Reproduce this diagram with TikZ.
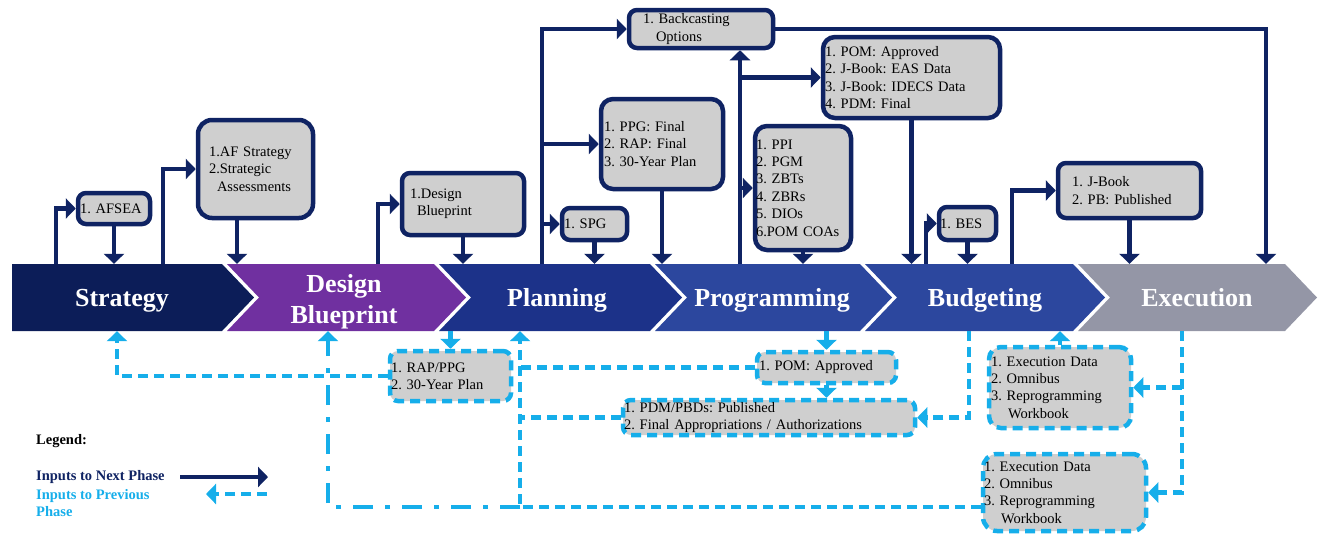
\documentclass[tikz,border=0pt]{standalone}
\usepackage{fontspec}
\setmainfont{Liberation Serif}
\usetikzlibrary{arrows.meta}

\definecolor{navy}{HTML}{0F2363}
\definecolor{lblue}{HTML}{16AEEA}
\definecolor{boxgray}{HTML}{CFCFCF}
\definecolor{cstrat}{HTML}{0C1D58}
\definecolor{cdesign}{HTML}{7030A0}
\definecolor{cplan}{HTML}{1C3289}
\definecolor{cprog}{HTML}{2C479E}
\definecolor{cbudg}{HTML}{2C479E}
\definecolor{cexec}{HTML}{9496A6}

\newcommand\boxfont{\fontsize{14.5}{17.4}\selectfont}
\newcommand\phasefont{\fontsize{26}{31}\selectfont\bfseries}
\newcommand\legfont{\fontsize{14.5}{17.5}\selectfont\bfseries}
% phase names: baseline set at a fixed depth below the band centre line
\newcommand\phasetext[2][-9pt]{\raisebox{#1}[0pt][0pt]{#2}}

\tikzset{
  tip/.style={-{Triangle[width=20pt,length=10pt]}},
  nbox/.style={draw=navy, line width=4.5pt, fill=boxgray, rounded corners=8pt,
    align=left, inner ysep=0pt, font=\boxfont},
  dbox/.style={draw=lblue, line width=4.5pt, dash pattern=on 10pt off 6pt,
    fill=boxgray, rounded corners=8pt, align=left, inner ysep=0pt, font=\boxfont},
  sz/.style n args={3}{text width=#1pt, minimum height=#2pt, inner xsep=#3pt},
  nav/.style={draw=navy, line width=4.5pt, tip},
  prevline/.style={draw=lblue, line width=4.5pt, dash pattern=on 10pt off 6pt},
  prev/.style={prevline, tip},
  prevdd/.style={draw=lblue, line width=4.5pt, dash pattern=on 20pt off 12pt on 5pt off 12pt},
  phase/.style={text=white, font=\phasefont, minimum height=67pt, inner sep=0pt, align=center},
}

\begin{document}
\frenchspacing
\begin{tikzpicture}[x=1pt,y=-1pt]
\useasboundingbox (0,0) rectangle (1319,539);

% ---- phase band ----
\fill[cstrat] (12,264) -- (222,264) -- (254,297.5) -- (222,331) -- (12,331) -- cycle;
\foreach \xl/\xr/\col in {227/434/cdesign, 439/650/cplan, 655/860/cprog, 865/1073/cbudg, 1078/1285/cexec}{
  \fill[\col] (\xl,264) -- (\xr,264) -- (\xr+32,297.5) -- (\xr,331) -- (\xl,331) -- (\xl+32,297.5) -- cycle;
}
\node[phase] (strategy) at (122,297.5) {\phasetext{Strategy}};
\node[phase] (design) at (344,297.5)
  {\phasetext[-26pt]{\begin{tabular}[b]{@{}c@{}}Design\\Blueprint\end{tabular}}};
\node[phase] (planning) at (557,297.5) {\phasetext{Planning}};
\node[phase] (programming) at (772,297.5) {\phasetext{Programming}};
\node[phase] (budgeting) at (985,297.5) {\phasetext{Budgeting}};
\node[phase] (execution) at (1197,297.5) {\phasetext{Execution}};

% ---- inputs to the next phase ----
\node[nbox, sz={68}{31}{2}] (afsea) at (114,208.5) {1. AFSEA};
\node[nbox, sz={93}{98}{11}, rounded corners=14pt] (afstrat) at (255.5,169)
  {1.AF Strategy\\2.Strategic\\\hspace*{8pt}Assessments};
\node[nbox, sz={106}{62}{8}] (dbp) at (463,204) {1.Design\\\hspace*{7pt}Blueprint};
\node[nbox, sz={61}{32}{2}] (spg) at (594.5,224) {1. SPG};
\node[nbox, sz={116}{90}{3}, rounded corners=12pt] (ppg) at (662,144)
  {1. PPG: Final\\2. RAP: Final\\3. 30-Year Plan};
\node[nbox, sz={116}{38}{14}] (backc) at (701,29) {1. Backcasting\\\hspace*{13pt}Options};
\node[nbox, sz={94}{124}{1}, rounded corners=12pt] (ppi) at (803,188)
  {1. PPI\\2. PGM\\3. ZBTs\\4. ZBRs\\5. DIOs\\6.POM COAs};
\node[nbox, sz={173}{81}{2}, rounded corners=12pt] (pomtop) at (911.5,77.5)
  {1. POM: Approved\\2. J-Book: EAS Data\\3. J-Book: IDECS Data\\4. PDM: Final};
\node[nbox, sz={55}{33}{1}] (bes) at (967.5,223.5) {1. BES};
\node[nbox, sz={115}{55}{14}] (jbook) at (1129.5,190.5) {1. J-Book\\2. PB: Published};

\draw[nav] (56,0 |- strategy.north) |- (afsea.west);
\draw[nav] (afsea.south) -- (afsea.south |- strategy.north);
\draw[nav] (163,0 |- strategy.north) |- (afstrat.west);
\draw[nav] (237,0 |- afstrat.south) -- (237,0 |- design.north);
\draw[nav] (378,0 |- design.north) |- (dbp.west);
\draw[nav] (dbp.south) -- (dbp.south |- planning.north);
\draw[nav] (542,0 |- planning.north) |- (backc.west);
\draw[nav] (542,0 |- ppg.west) -- (ppg.west);
\draw[nav] (542,0 |- spg.west) -- (spg.west);
\draw[nav] (spg.south) -- (spg.south |- planning.north);
\draw[nav] (ppg.south) -- (ppg.south |- programming.north);
\draw[nav] (740,0 |- programming.north) -- (740,0 |- backc.south);
\draw[nav] (740,0 |- pomtop.west) -- (pomtop.west);
\draw[nav] (740,0 |- ppi.west) -- (ppi.west);
\draw[nav] (ppi.south) -- (ppi.south |- programming.north);
\draw[nav] (backc.east) -| (1266,0 |- execution.north);
\draw[nav] (pomtop.south) -- (pomtop.south |- budgeting.north);
\draw[nav] (926,0 |- budgeting.north) |- (bes.west);
\draw[nav] (bes.south) -- (bes.south |- budgeting.north);
\draw[nav] (1012,0 |- budgeting.north) |- (jbook.west);
\draw[nav] (jbook.south) -- (jbook.south |- execution.north);

% ---- inputs to the previous phase ----
\node[dbox, sz={119}{50}{1}] (rap) at (450.5,376) {1. RAP/PPG\\2. 30-Year Plan};
\node[dbox, sz={135}{31}{2}] (pomb) at (826.5,367.5) {1. POM: Approved};
\node[dbox, sz={290}{35}{1}] (pdm) at (769,417.5)
  {1. PDM/PBDs: Published\\2. Final Appropriations / Authorizations};
\node[dbox, sz={138}{81}{2}, rounded corners=12pt] (exec1) at (1060,387.5)
  {1. Execution Data\\2. Omnibus\\3. Reprogramming\\\hspace*{17pt}Workbook};
\node[dbox, sz={161}{77}{1}, rounded corners=14pt] (exec2) at (1064.5,492.5)
  {1. Execution Data\\2. Omnibus\\3. Reprogramming\\\hspace*{17pt}Workbook};

\coordinate (j) at (520,507);

\draw[prev] (rap.west) -| (117,0 |- strategy.south);
\draw[prev] (rap.north |- planning.south) -- (rap.north);
\draw[prev] (exec2.west |- j) -- (j) -- (j |- planning.south);
\draw[prevdd, tip] (j) -| (328,0 |- design.south);
\draw[prevline] (pomb.west) -- (pomb.west -| j);
\draw[prevline] (pdm.west) -- (pdm.west -| j);
\draw[prev] (pomb.north |- programming.south) -- (pomb.north);
\draw[prev] (pomb.south) -- (pomb.south |- pdm.north);
\draw[prev] (969,0 |- budgeting.south) |- (pdm.east);
\draw[prev] (exec1.north) -- (exec1.north |- budgeting.south);
\draw[prev] (1182,0 |- execution.south) |- (exec2.east);
\draw[prev] (1182,0 |- exec1.east) -- (exec1.east);

% ---- legend ----
\node[anchor=west, inner sep=0pt, font=\legfont] (legtitle) at (36,441) {Legend:};
\node[anchor=west, inner sep=0pt, font=\legfont, text=navy] (legnext) at (36,477) {Inputs to Next Phase};
\node[anchor=west, inner sep=0pt, font=\legfont, text=lblue, align=left] (legprev) at (36,503) {Inputs to Previous\\Phase};
\coordinate (ln1) at (180,477);
\coordinate (ln2) at (268,477);
\coordinate (lp1) at (267,494);
\coordinate (lp2) at (206,494);
\draw[nav] (ln1) -- (ln2);
\draw[prev] (lp1) -- (lp2);
\end{tikzpicture}
\end{document}
